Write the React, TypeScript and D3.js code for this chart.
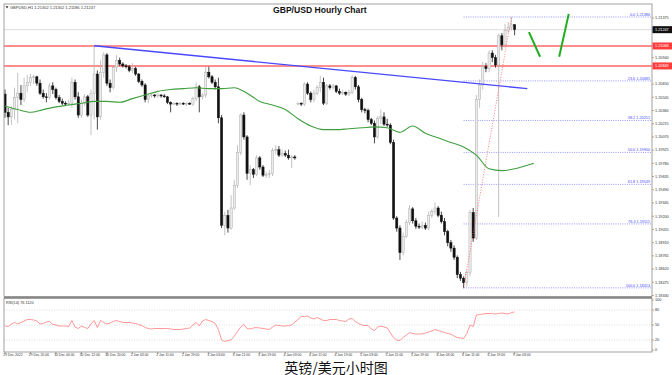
import React from 'react';
import * as d3 from 'd3';

// ---------- DATA ----------
const opens = [1.2054,1.2034,1.2029,1.2037,1.2050,1.2055,1.2048,1.2063,1.2067,1.2072,1.2073,1.2066,1.2055,1.2051,1.2050,1.2063,1.2059,1.2050,1.2046,1.2044,1.2043,1.2044,1.2067,1.2051,1.2031,1.2044,1.2051,1.2031,1.2055,1.2076,1.2029,1.2078,1.2097,1.2066,1.2061,1.2083,1.2091,1.2087,1.2085,1.2084,1.2080,1.2082,1.2076,1.2068,1.2064,1.2048,1.2052,1.2053,1.2052,1.2053,1.2052,1.2051,1.2045,1.2043,1.2044,1.2043,1.2044,1.2043,1.2044,1.2043,1.2049,1.2062,1.2051,1.2053,1.2078,1.2073,1.2067,1.2062,1.2028,1.1910,1.1921,1.1907,1.1929,1.1954,1.1990,1.2031,1.2007,1.1967,1.1971,1.1966,1.1984,1.1974,1.1965,1.1966,1.1967,1.1992,1.1993,1.1987,1.1989,1.1987,1.1984,1.1985,1.2043,1.2044,1.2043,1.2065,1.2055,1.2048,1.2055,1.2061,1.2067,1.2044,1.2063,1.2061,1.2063,1.2057,1.2055,1.2056,1.2054,1.2056,1.2072,1.2062,1.2048,1.2037,1.2036,1.2026,1.2022,1.2007,1.2027,1.2029,1.2021,1.2020,1.2001,1.1918,1.1907,1.1880,1.1898,1.1913,1.1928,1.1915,1.1909,1.1908,1.1910,1.1907,1.1921,1.1925,1.1929,1.1921,1.1914,1.1903,1.1891,1.1885,1.1875,1.1856,1.1852,1.1847,1.1858,1.1924,1.1896,1.2048,1.2064,1.2084,1.2082,1.2099,1.2094,1.2086,1.2118,1.2108,1.2124,1.2127,1.21302];
const highs = [1.2059,1.2039,1.2041,1.2061,1.2077,1.2064,1.2072,1.2075,1.2076,1.2075,1.2074,1.2070,1.2059,1.2055,1.2066,1.2067,1.2061,1.2053,1.2049,1.2046,1.2048,1.2072,1.2070,1.2056,1.2048,1.2054,1.2053,1.2059,1.2108,1.2080,1.2091,1.2100,1.2099,1.2070,1.2085,1.2097,1.2094,1.2089,1.2087,1.2086,1.2088,1.2084,1.2077,1.2070,1.2066,1.2054,1.2055,1.2054,1.2055,1.2054,1.2054,1.2052,1.2046,1.2045,1.2045,1.2045,1.2045,1.2045,1.2045,1.2051,1.2067,1.2064,1.2055,1.2084,1.2084,1.2075,1.2070,1.2072,1.2031,1.1925,1.1927,1.1943,1.1960,1.1998,1.2033,1.2034,1.2009,1.1976,1.1973,1.1987,1.1986,1.1976,1.1969,1.1971,1.1995,1.1998,1.1997,1.1993,1.1992,1.1993,1.1987,1.1987,1.2045,1.2045,1.2067,1.2067,1.2057,1.2059,1.2064,1.2074,1.2072,1.2065,1.2065,1.2065,1.2064,1.2060,1.2059,1.2057,1.2059,1.2075,1.2074,1.2064,1.2050,1.2039,1.2038,1.2028,1.2025,1.2030,1.2037,1.2034,1.2027,1.2022,1.2004,1.1920,1.1910,1.1902,1.1916,1.1932,1.1930,1.1918,1.1912,1.1914,1.1913,1.1925,1.1928,1.1935,1.1931,1.1925,1.1918,1.1905,1.1894,1.1888,1.1877,1.1859,1.1854,1.1861,1.1927,1.1929,1.2053,1.2070,1.2089,1.2088,1.2102,1.2102,1.2097,1.2120,1.2121,1.2131,1.2133,1.2139,1.21302];
const lows = [1.2028,1.2020,1.2020,1.2026,1.2022,1.2042,1.2045,1.2056,1.2063,1.2065,1.2063,1.2053,1.2049,1.2045,1.2048,1.2054,1.2048,1.2044,1.2042,1.2041,1.2041,1.2039,1.2048,1.2028,1.2028,1.2041,1.2029,1.2009,1.2026,1.2015,1.2026,1.2072,1.2063,1.2056,1.2059,1.2078,1.2085,1.2083,1.2082,1.2078,1.2077,1.2074,1.2066,1.2062,1.2045,1.2044,1.2050,1.2050,1.2050,1.2050,1.2050,1.2043,1.2034,1.2042,1.2041,1.2042,1.2042,1.2041,1.2042,1.2041,1.2046,1.2034,1.2048,1.2050,1.2071,1.2065,1.2059,1.2022,1.1907,1.1899,1.1902,1.1905,1.1927,1.1951,1.1987,1.2004,1.1960,1.1954,1.1962,1.1964,1.1971,1.1963,1.1962,1.1962,1.1964,1.1988,1.1985,1.1985,1.1985,1.1982,1.1973,1.1982,1.2042,1.2041,1.2041,1.2053,1.2045,1.2045,1.2053,1.2056,1.2042,1.2042,1.2059,1.2059,1.2055,1.2053,1.2053,1.2052,1.2052,1.2054,1.2059,1.2045,1.2034,1.2033,1.2023,1.2020,1.2000,1.2005,1.2021,1.2019,1.2018,1.1999,1.1916,1.1903,1.1872,1.1877,1.1896,1.1910,1.1912,1.1906,1.1906,1.1906,1.1905,1.1905,1.1918,1.1922,1.1919,1.1912,1.1899,1.1887,1.1881,1.1872,1.1852,1.1849,1.1841,1.1843,1.1854,1.1892,1.1894,1.2039,1.2059,1.2078,1.2078,1.2089,1.2083,1.1919,1.2102,1.2105,1.2121,1.2124,1.21186];
const closes = [1.2034,1.2029,1.2037,1.2050,1.2055,1.2048,1.2063,1.2067,1.2072,1.2073,1.2066,1.2055,1.2051,1.2050,1.2063,1.2059,1.2050,1.2046,1.2044,1.2043,1.2044,1.2067,1.2051,1.2031,1.2044,1.2051,1.2031,1.2055,1.2076,1.2029,1.2078,1.2097,1.2066,1.2061,1.2083,1.2091,1.2087,1.2085,1.2084,1.2080,1.2082,1.2076,1.2068,1.2064,1.2048,1.2052,1.2053,1.2052,1.2053,1.2052,1.2051,1.2045,1.2043,1.2044,1.2043,1.2044,1.2043,1.2044,1.2043,1.2049,1.2062,1.2051,1.2053,1.2078,1.2073,1.2067,1.2062,1.2028,1.1910,1.1921,1.1907,1.1929,1.1954,1.1990,1.2031,1.2007,1.1967,1.1971,1.1966,1.1984,1.1974,1.1965,1.1966,1.1967,1.1992,1.1993,1.1987,1.1989,1.1987,1.1984,1.1985,1.1984,1.2044,1.2043,1.2065,1.2055,1.2048,1.2055,1.2061,1.2067,1.2044,1.2063,1.2061,1.2063,1.2057,1.2055,1.2056,1.2054,1.2056,1.2072,1.2062,1.2048,1.2037,1.2036,1.2026,1.2022,1.2007,1.2027,1.2029,1.2021,1.2020,1.2001,1.1918,1.1907,1.1880,1.1898,1.1913,1.1928,1.1915,1.1909,1.1908,1.1910,1.1907,1.1921,1.1925,1.1929,1.1921,1.1914,1.1903,1.1891,1.1885,1.1875,1.1856,1.1852,1.1847,1.1858,1.1924,1.1896,1.2048,1.2064,1.2084,1.2082,1.2099,1.2094,1.2086,1.2118,1.2108,1.2124,1.2127,1.2130,1.21247];

const rsiValues = [48,47,52,55,52,55,58,61,61,60,58,52,53,56,57,51,50,48,48,48,47,59,46,43,48,45,43,52,59,45,59,55,52,54,57,59,57,55,55,55,54,53,51,49,45,43,42,43,43,43,43,43,42,41,41,41,42,43,44,50,55,48,58,61,59,57,53,41,20,17,19,20,28,37,46,51,43,42,44,45,44,43,42,41,46,50,49,48,48,49,50,56,61,67,67,68,64,62,65,62,59,59,61,61,61,59,58,57,62,63,57,53,50,49,49,42,39,46,48,46,44,34,25,20,19,25,30,35,33,32,32,32,34,36,38,41,39,37,35,33,32,28,25,24,23,33,50,47,70,71,72,73,73,73,72,73,74,73,72,75,76.11];

const maBars = [0,4,8,12,16,20,24,28,32,36,40,44,48,52,56,60,64,68,72,76,80,84,88,92,96,100,104,108,112,116,120,124,128,132,136,140,144,148,152,156,160,164,166];
const maValues = [1.2041,1.2037,1.2034,1.2037,1.2040,1.2042,1.2044,1.2046,1.2046,1.2045,1.2049,1.2053,1.2057,1.2059,1.2060,1.2061,1.2060,1.2060,1.2061,1.2055,1.2046,1.2042,1.2037,1.2027,1.2019,1.2015,1.2015,1.2016,1.2017,1.2018,1.2017,1.2012,1.2019,1.2011,1.2006,1.2001,1.1996,1.1987,1.1972,1.1970,1.1972,1.1976,1.1978];

const xTickLabels = ['29 Dec 2022','29 Dec 20:00','30 Dec 04:00','30 Dec 12:00','30 Dec 20:00','2 Jan 03:00','2 Jan 11:00','2 Jan 19:00','3 Jan 03:00','3 Jan 11:00','3 Jan 19:00','4 Jan 03:00','4 Jan 11:00','4 Jan 19:00','5 Jan 03:00','5 Jan 11:00','5 Jan 19:00','6 Jan 03:00','6 Jan 11:00','6 Jan 19:00','9 Jan 03:00'];
const priceTicks = [1.21375,1.21230,1.21085,1.20940,1.20795,1.20650,1.20505,1.20360,1.20215,1.20070,1.19925,1.19780,1.19635,1.19490,1.19345,1.19200,1.19055,1.18910,1.18765,1.18620,1.18475,1.18330];

const fibLevels = [0, 23.6, 38.2, 50, 61.8, 76.4, 100];
const fibHigh = 1.21386;
const fibLow = 1.18414;
const fibLowBar = 144;
const fibHighBar = 159;

const redLevels = [1.21068, 1.20849];
const currentPrice = 1.21247;
const trendBars = [28, 164];
const trendPrices = [1.2107, 1.2060];
const arrowBars = [[164.5, 168], [174, 177]];
const arrowPrices = [[1.2122, 1.2095], [1.2095, 1.2142]];
const rsiLevels = [80, 50, 20];
const rsiAxisLabels = [100, 80, 50, 20, 0];
const headerText = 'GBPUSD,H1  1.21302 1.21302 1.21186 1.21247';

// ---------- LAYOUT ----------
const W = 672, H = 375;
const L = 4, R = 652;
const MT = 4, MB = 296.5;
const RT = 298.5, RB = 352;
const FONT = '"Liberation Sans", Arial, sans-serif';

export default function App() {
  const x = d3.scaleLinear().domain([0, 160]).range([5, 514.6]);
  const y = d3.scaleLinear().domain([1.18330, 1.21375]).range([295.5, 18]);
  const ry = d3.scaleLinear().domain([0, 100]).range([350, 300]);

  const maLine = d3.line<number>()
    .x((_, i) => x(maBars[i]))
    .y((v) => y(v))
    .curve(d3.curveMonotoneX)(maValues) || '';
  const rsiLine = d3.line<number>()
    .x((_, i) => x(i))
    .y((v) => ry(v))(rsiValues) || '';

  const fibRange = fibHigh - fibLow;
  const boxYs = [...redLevels, currentPrice].map((p) => y(p));
  const visibleTicks = priceTicks.filter((p) => boxYs.every((by) => Math.abs(y(p) - by) > 5.5));

  return (
    <svg width={W} height={H} style={{ position: 'absolute', left: 0, top: 0, background: '#fff' }}
      xmlns="http://www.w3.org/2000/svg">
      <defs>
        <clipPath id="mainClip"><rect x={L} y={MT} width={R - L} height={MB - MT} /></clipPath>
        <clipPath id="rsiClip"><rect x={L} y={RT} width={R - L} height={RB - RT} /></clipPath>
      </defs>
      <rect x={0} y={0} width={W} height={H} fill="#fff" />

      {/* main panel */}
      <g clipPath="url(#mainClip)">
        <line x1={L} x2={R} y1={y(currentPrice)} y2={y(currentPrice)} stroke="#d4d4d4" strokeWidth={0.8} />
        {redLevels.map((p, i) => (
          <line key={'r' + i} x1={L} x2={R} y1={y(p)} y2={y(p)} stroke="#ff8e8e" strokeWidth={2} />
        ))}
        {fibLevels.map((lv, i) => {
          const p = fibHigh - (lv / 100) * fibRange;
          return (
            <g key={'f' + i}>
              <line x1={x(fibLowBar)} x2={R} y1={y(p)} y2={y(p)} stroke="#7a7aff" strokeWidth={0.8} strokeDasharray="1,1.3" />
              <text x={R - 2} y={y(p) - 1} textAnchor="end" fontFamily={FONT} fontSize={3.8} fill="#4b4bff">
                {`${lv.toFixed(1)} ${p.toFixed(5)}`}
              </text>
            </g>
          );
        })}
        {closes.map((c, i) => {
          const o = opens[i];
          const bull = c >= o;
          const cx = x(i);
          const top = y(Math.max(o, c));
          const hgt = Math.max(0.8, Math.abs(y(o) - y(c)));
          return (
            <g key={'c' + i}>
              <line x1={cx} x2={cx} y1={y(highs[i])} y2={y(lows[i])} stroke={bull ? '#b4b4b4' : '#1a1a1a'} strokeWidth={0.8} />
              <rect x={cx - 1.1} y={top} width={2.2} height={hgt}
                fill={bull ? '#ececec' : '#111'} stroke={bull ? '#adadad' : '#111'} strokeWidth={0.5} />
            </g>
          );
        })}
        <path d={maLine} fill="none" stroke="#3f9f3f" strokeWidth={1.1} />
        <line x1={x(trendBars[0])} y1={y(trendPrices[0])} x2={x(trendBars[1])} y2={y(trendPrices[1])}
          stroke="#4848ff" strokeWidth={1.4} />
        <line x1={x(fibLowBar)} y1={y(fibLow)} x2={x(fibHighBar)} y2={y(fibHigh)}
          stroke="#ff5a5a" strokeWidth={0.8} strokeDasharray="1,1.6" />
        {arrowBars.map((b, i) => (
          <line key={'a' + i} x1={x(b[0])} y1={y(arrowPrices[i][0])} x2={x(b[1])} y2={y(arrowPrices[i][1])}
            stroke="#1fae1f" strokeWidth={2} />
        ))}
      </g>

      {/* header & title */}
      <path d="M5.5,6.2 L8.5,6.2 L7,8.4 Z" fill="#333" />
      <text x={10} y={8.6} fontFamily={FONT} fontSize={4} fill="#333">{headerText}</text>
      <text x={273} y={13} fontFamily={FONT} fontSize={8.6} fontWeight="bold" fill="#111">GBP/USD Hourly Chart</text>

      <rect x={L} y={MT} width={R - L} height={MB - MT} fill="none" stroke="#8a8a8a" strokeWidth={0.8} />

      {/* right price axis */}
      {visibleTicks.map((p, i) => (
        <g key={'t' + i}>
          <line x1={R} x2={R + 2} y1={y(p)} y2={y(p)} stroke="#777" strokeWidth={0.6} />
          <text x={R + 3} y={y(p) + 1.3} fontFamily={FONT} fontSize={3.8} fill="#333">{p.toFixed(5)}</text>
        </g>
      ))}
      {redLevels.map((p, i) => (
        <g key={'rb' + i}>
          <rect x={R + 0.5} y={y(p) - 3.5} width={19.5} height={7} fill="#ff3c3c" />
          <text x={R + 3} y={y(p) + 1.4} fontFamily={FONT} fontSize={3.8} fill="#fff">{p.toFixed(5)}</text>
        </g>
      ))}
      <rect x={R + 0.5} y={y(currentPrice) - 3.5} width={19.5} height={7} fill="#111" />
      <text x={R + 3} y={y(currentPrice) + 1.4} fontFamily={FONT} fontSize={3.8} fill="#fff">{currentPrice.toFixed(5)}</text>

      {/* RSI panel */}
      <g clipPath="url(#rsiClip)">
        {rsiLevels.map((lv) => (
          <line key={'rl' + lv} x1={L} x2={R} y1={ry(lv)} y2={ry(lv)} stroke="#c8c8c8" strokeWidth={0.6} strokeDasharray="1,1.5" />
        ))}
        <path d={rsiLine} fill="none" stroke="#ff8a8a" strokeWidth={0.9} />
      </g>
      <rect x={L} y={RT} width={R - L} height={RB - RT} fill="none" stroke="#8a8a8a" strokeWidth={0.8} />
      <line x1={L} x2={R} y1={MB + 0.9} y2={MB + 0.9} stroke="#555" strokeWidth={0.8} />
      <text x={6} y={303.5} fontFamily={FONT} fontSize={3.8} fill="#333">RSI(14) 76.1120</text>
      {rsiAxisLabels.map((lv) => (
        <g key={'ra' + lv}>
          <line x1={R} x2={R + 2} y1={ry(lv)} y2={ry(lv)} stroke="#777" strokeWidth={0.6} />
          <text x={R + 3} y={ry(lv) + 1.3} fontFamily={FONT} fontSize={3.8} fill="#333">{lv}</text>
        </g>
      ))}

      {/* time axis */}
      {xTickLabels.map((lab, k) => (
        <g key={'x' + k}>
          <line x1={x(k * 8)} x2={x(k * 8)} y1={RB} y2={RB + 2} stroke="#777" strokeWidth={0.6} />
          <text x={x(k * 8) - 1.7} y={356.3} fontFamily={FONT} fontSize={3.4} fill="#333">{lab}</text>
        </g>
      ))}

      {/* caption */}
      <text x={336} y={372.5} textAnchor="middle" fontFamily='"Noto Sans CJK SC", sans-serif' fontSize={14} fill="#111">英镑/美元小时图</text>
    </svg>
  );
}
